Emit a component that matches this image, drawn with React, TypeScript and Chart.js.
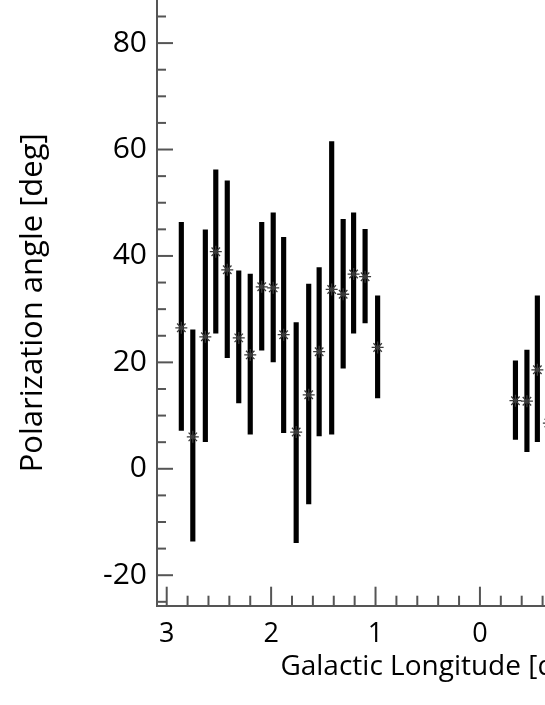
import React, { useEffect, useRef } from "react";
import { Chart, registerables } from "chart.js";

Chart.register(...registerables);

// Galactic longitude [deg] of each measurement
const longitude = [2.86, 2.75, 2.63, 2.53, 2.42, 2.31, 2.2, 2.09, 1.98, 1.88, 1.76, 1.64, 1.54, 1.42, 1.31, 1.21, 1.1, 0.98, -0.34, -0.45, -0.55, -0.66];
// Polarization angle [deg]
const angle = [26.5, 6.0, 24.8, 40.8, 37.4, 24.6, 21.4, 34.2, 34.0, 25.2, 6.9, 13.9, 22.0, 33.7, 32.8, 36.6, 36.1, 22.8, 12.8, 12.7, 18.6, 8.6];
// Error bar lower / upper ends [deg]
const angleLow = [7.2, -13.6, 5.1, 25.5, 20.9, 12.4, 6.5, 22.3, 20.1, 6.8, -13.9, -6.6, 6.2, 6.5, 18.9, 25.5, 27.4, 13.3, 5.5, 3.2, 5.1, 0.5];
const angleHigh = [46.3, 26.1, 44.9, 56.2, 54.1, 37.2, 36.6, 46.3, 48.1, 43.5, 27.5, 34.7, 37.8, 61.5, 46.9, 48.1, 45.0, 32.5, 20.3, 22.3, 32.5, 17.0];

const xRange = { min: -2.28, max: 3.093 };
const yRange = { min: -25.73, max: 88.1 };
const xMajorStep = 1;
const xMinorStep = 0.2;
const yMajorStep = 20;
const yMinorStep = 5;

const AXIS_COLOR = "#555555";
const FONT = "'Open Sans', 'DejaVu Sans', sans-serif";

const insideTicks = {
  id: "insideTicks",
  afterDatasetsDraw(chart: any) {
    const { ctx, chartArea, scales } = chart;
    const x = scales.x;
    const y = scales.y;
    ctx.save();
    ctx.strokeStyle = AXIS_COLOR;
    ctx.lineWidth = 2;
    const xr = Math.round(xMajorStep / xMinorStep);
    for (let i = Math.ceil(x.min / xMinorStep - 1e-6); i <= Math.floor(x.max / xMinorStep + 1e-6); i++) {
      const v = i * xMinorStep;
      const major = Math.abs(i % xr) === 0;
      const px = x.getPixelForValue(v);
      const len = major ? 19 : 10;
      ctx.beginPath();
      ctx.moveTo(px, chartArea.bottom);
      ctx.lineTo(px, chartArea.bottom - len);
      ctx.stroke();
    }
    const yr = Math.round(yMajorStep / yMinorStep);
    for (let i = Math.ceil(y.min / yMinorStep - 1e-6); i <= Math.floor(y.max / yMinorStep + 1e-6); i++) {
      const v = i * yMinorStep;
      const major = Math.abs(i % yr) === 0;
      const py = y.getPixelForValue(v);
      const len = major ? 16 : 9;
      ctx.beginPath();
      ctx.moveTo(chartArea.left, py);
      ctx.lineTo(chartArea.left + len, py);
      ctx.stroke();
    }
    ctx.restore();
  },
};

export default function App() {
  const canvasRef = useRef<HTMLCanvasElement | null>(null);

  useEffect(() => {
    const canvas = canvasRef.current;
    if (!canvas) return;
    const bars = longitude.map((lon, i) => ({ x: lon, y: [angleLow[i], angleHigh[i]] }));
    const points = longitude.map((lon, i) => ({ x: lon, y: angle[i] }));

    const chart = new Chart(canvas, {
      type: "bar",
      data: {
        datasets: [
          {
            type: "scatter",
            data: points,
            pointStyle: "star",
            pointRadius: 6,
            borderColor: "#3a3a3a",
            backgroundColor: "#3a3a3a",
            borderWidth: 1.3,
            showLine: false,
            order: 0,
          } as any,
          {
            type: "bar",
            data: bars as any,
            backgroundColor: "#000000",
            borderWidth: 0,
            barThickness: 4.5,
            grouped: false,
            order: 1,
          } as any,
        ],
      },
      plugins: [insideTicks],
      options: {
        animation: false,
        responsive: false,
        devicePixelRatio: 1,
        layout: { padding: 0, autoPadding: false },
        plugins: {
          legend: { display: false },
          tooltip: { enabled: false },
        },
        scales: {
          x: {
            type: "linear",
            reverse: true,
            offset: false,
            min: xRange.min,
            max: xRange.max,
            grid: { display: false, drawTicks: false, offset: false },
            border: { display: true, color: AXIS_COLOR, width: 2 },
            ticks: {
              stepSize: xMajorStep,
              includeBounds: false,
              autoSkip: false,
              maxRotation: 0,
              padding: 12,
              color: "#000000",
              font: { family: FONT, size: 27 },
              callback: (v: any) => String(v),
            },
            title: {
              display: true,
              text: "Galactic Longitude [deg]",
              color: "#000000",
              font: { family: FONT, size: 28 },
              padding: { top: 0, bottom: 21 },
            },
            afterFit: (s: any) => {
              s.height = 99.3;
              s.paddingLeft = 0;
              s.paddingRight = 0;
            },
          } as any,
          y: {
            type: "linear",
            min: yRange.min,
            max: yRange.max,
            beginAtZero: false,
            grid: { display: false, drawTicks: false },
            border: { display: true, color: AXIS_COLOR, width: 2 },
            ticks: {
              stepSize: yMajorStep,
              includeBounds: false,
              padding: 10,
              color: "#000000",
              font: { family: FONT, size: 30 },
              callback: (v: any) => String(v),
            },
            title: {
              display: true,
              text: "Polarization angle [deg]",
              color: "#000000",
              font: { family: FONT, size: 31 },
              padding: { top: 15, bottom: 0 },
            },
            afterFit: (s: any) => {
              s.width = 157;
              s.paddingTop = 0;
              s.paddingBottom = 0;
            },
          } as any,
        },
      },
    });
    return () => chart.destroy();
  }, []);

  return (
    <div
      style={{
        position: "absolute",
        left: 0,
        top: 0,
        width: 545,
        height: 705,
        overflow: "hidden",
        background: "#ffffff",
      }}
    >
      <canvas ref={canvasRef} width={718} height={705} style={{ display: "block" }} />
    </div>
  );
}
